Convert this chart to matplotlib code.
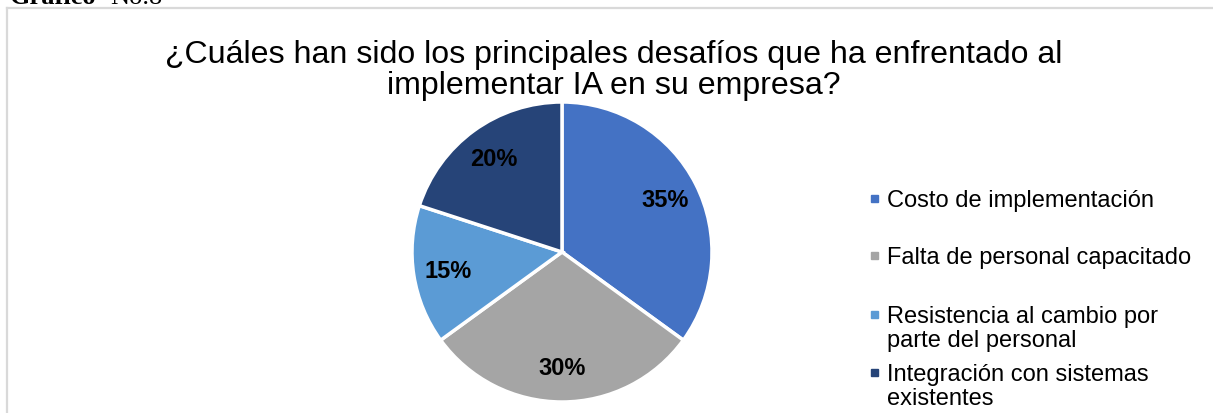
import matplotlib
matplotlib.use("Agg")
import matplotlib.pyplot as plt
from matplotlib.patches import Rectangle
from matplotlib.lines import Line2D

plt.rcParams['font.family'] = ['Liberation Sans', 'DejaVu Sans']

categories = ["Costo de implementación", "Falta de personal capacitado",
              "Resistencia al cambio por\nparte del personal",
              "Integración con sistemas\nexistentes"]
values = [35, 30, 15, 20]
colors = ["#4472C4", "#A5A5A5", "#5B9BD5", "#264478"]
title_lines = ["¿Cuáles han sido los principales desafíos que ha enfrentado al",
               "implementar IA en su empresa?"]

W, H = 1213, 414
fig = plt.figure(figsize=(W / 100, H / 100), dpi=100)

def fx(px):
    return px / W

def fy(py):
    return 1 - py / H

# Frame of chart area
fig.add_artist(Line2D([fx(7), fx(7)], [fy(9), fy(420)], color="#D9D9D9", lw=1.6))
fig.add_artist(Line2D([fx(7), fx(1220)], [fy(9), fy(9)], color="#D9D9D9", lw=1.6))

# Caption above chart (cut off at the top edge in the reference)
fig.text(fx(10), fy(3.5), "Gráfico", family="Liberation Serif", fontweight="bold",
         fontsize=19, va="baseline", ha="left")
fig.text(fx(110), fy(3.5), "No.8", family="Liberation Serif",
         fontsize=19, va="baseline", ha="left")

# Title
for line, b in zip(title_lines, [63, 94]):
    fig.text(fx(614), fy(b), line, ha="center", va="baseline", fontsize=23.1,
             color="#000000")

# Pie
cx, cy, r = 562, 253, 150
ax = fig.add_axes([fx(cx - r), fy(cy + r), 2 * r / W, 2 * r / H])
wedges, texts, autotexts = ax.pie(values, colors=colors, startangle=90, counterclock=False,
                                  autopct=lambda p: f"{p:.0f}%", pctdistance=0.77,
                                  wedgeprops=dict(edgecolor="white", linewidth=2.5),
                                  textprops=dict(fontsize=17, fontweight="bold", color="black"))
ax.set_xlim(-1, 1)
ax.set_ylim(-1, 1)
ax.axis("off")

# Legend (manual)
baselines = [206.7, 264, 323, 381]
for lab, col, b in zip(categories, colors, baselines):
    fig.add_artist(Rectangle((fx(871), fy(b - 4)), 7 / W, 7 / H, color=col,
                             transform=fig.transFigure))
    for i, part in enumerate(lab.split("\n")):
        fig.text(fx(887), fy(b + 24 * i), part, ha="left", va="baseline", fontsize=17,
                 color="#000000")

fig.savefig("out.png", dpi=100)
